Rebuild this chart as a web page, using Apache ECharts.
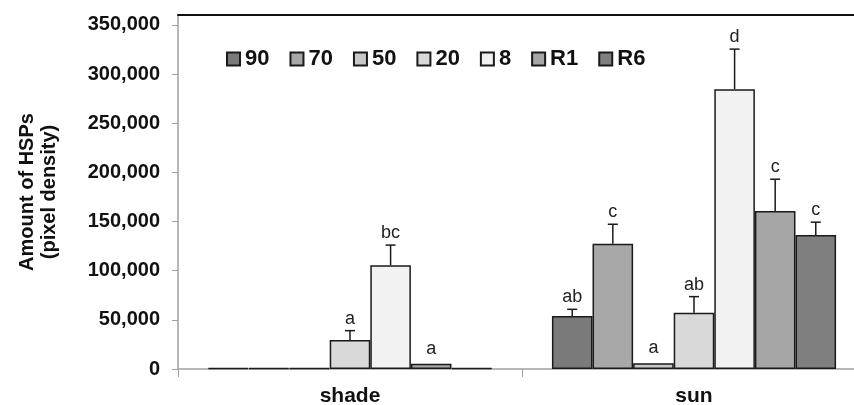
<!DOCTYPE html>
<html>
<head>
<meta charset="utf-8">
<script src="https://cdn.jsdelivr.net/npm/echarts@6/dist/echarts.min.js"></script>
<style>
  html, body { margin: 0; padding: 0; background: #fff; }
  #main { width: 854px; height: 405px; }
</style>
</head>
<body>
<div id="main"></div>
<script>
// categories and series
var categories = ['shade', 'sun'];
var seriesNames = ['90', '70', '50', '20', '8', 'R1', 'R6'];
var seriesColors = ['#7a7a7a', '#a8a8a8', '#c8c8c8', '#d9d9d9', '#f2f2f2', '#a6a6a6', '#7f7f7f'];

// means, one value per series (order 90,70,50,20,8,R1,R6)
var shadeMeans = [800, 800, 800, 29500, 105500, 5400, 800];
var sunMeans = [53900, 127500, 5800, 57300, 284600, 160700, 136300];

// top of the error bars (null = no error bar drawn)
var shadeErrTop = [null, null, null, 39000, 126000, null, null];
var sunErrTop = [60700, 147200, null, 73600, 325300, 193000, 149300];

// significance letters
var shadeLetters = ['', '', '', 'a', 'bc', 'a', ''];
var sunLetters = ['ab', 'c', 'a', 'ab', 'd', 'c', 'c'];

var yTicks = { min: 0, max: 360000, interval: 50000 };

var means = [shadeMeans, sunMeans];
var errTops = [shadeErrTop, sunErrTop];
var letters = [shadeLetters, sunLetters];
var catGap = 0.174;

var myChart = echarts.init(document.getElementById('main'));

var series = seriesNames.map(function (name, s) {
    return {
        name: name,
        type: 'bar',
        barGap: '0%',
        barCategoryGap: (catGap * 100) + '%',
        data: means.map(function (m) { return m[s]; }),
        itemStyle: { color: seriesColors[s], borderColor: '#1a1a1a', borderWidth: 1.5 },
        animation: false
    };
});

// error bars + letters
var errData = [];
for (var c = 0; c < categories.length; c++) {
    for (var s = 0; s < seriesNames.length; s++) {
        var e = errTops[c][s];
        errData.push([c, means[c][s], e == null ? means[c][s] : e, s, e == null ? 0 : 1]);
    }
}

series.push({
    type: 'custom',
    data: errData,
    encode: { x: 0, y: [1, 2] },
    silent: true,
    animation: false,
    z: 5,
    renderItem: function (params, api) {
        var c = api.value(0), v = api.value(1), e = api.value(2), s = api.value(3), hasErr = api.value(4);
        var n = seriesNames.length;
        var band = api.size([1, 0])[0];
        var bw = band * (1 - catGap) / n;
        var base = api.coord([c, v]);
        var x = base[0] + (s - (n - 1) / 2) * bw;
        var children = [];
        var labelY = base[1] - 15;
        if (hasErr) {
            var eTop = api.coord([c, e])[1];
            children.push({
                type: 'line',
                shape: { x1: x, y1: base[1], x2: x, y2: eTop },
                style: { stroke: '#1a1a1a', lineWidth: 1.5 }
            });
            children.push({
                type: 'line',
                shape: { x1: x - 5, y1: eTop, x2: x + 5, y2: eTop },
                style: { stroke: '#1a1a1a', lineWidth: 1.5 }
            });
            labelY = eTop - 12;
        }
        var txt = letters[c][s];
        if (txt) {
            children.push({
                type: 'text',
                style: {
                    x: x, y: labelY, text: txt,
                    align: 'center', verticalAlign: 'middle',
                    fontFamily: 'Liberation Sans', fontSize: 18, fill: '#222'
                }
            });
        }
        return { type: 'group', children: children };
    }
});

var option = {
    backgroundColor: '#fff',
    animation: false,
    grid: { left: 178, right: -12, top: 15, bottom: 36, outerBoundsMode: 'none', containLabel: false },
    legend: {
        data: seriesNames,
        left: 226,
        top: 48,
        padding: 0,
        icon: 'rect',
        itemWidth: 13,
        itemHeight: 13,
        itemGap: 20,
        textStyle: { fontFamily: 'Liberation Sans', fontWeight: 'bold', fontSize: 22, color: '#111' }
    },
    xAxis: [
        {
            type: 'category',
            data: categories,
            axisLine: { lineStyle: { color: '#a0a0a0', width: 1.5 } },
            axisTick: { show: true, length: 8, lineStyle: { color: '#a0a0a0' } },
            axisLabel: { margin: 17, fontFamily: 'Liberation Sans', fontWeight: 'bold', fontSize: 21, color: '#111' }
        },
        {
            type: 'category',
            data: categories,
            position: 'top',
            axisLine: { lineStyle: { color: '#111', width: 2 } },
            axisTick: { show: false },
            axisLabel: { show: false }
        }
    ],
    yAxis: {
        type: 'value',
        min: yTicks.min,
        max: yTicks.max,
        interval: yTicks.interval,
        name: 'Amount of HSPs\n(pixel density)',
        nameLocation: 'middle',
        nameRotate: 90,
        nameGap: 118,
        nameTextStyle: { fontFamily: 'Liberation Sans', fontWeight: 'bold', fontSize: 20, lineHeight: 22, color: '#111' },
        axisLine: { show: true, lineStyle: { color: '#a0a0a0', width: 1.5 } },
        axisTick: { show: true, length: 6, lineStyle: { color: '#a0a0a0' } },
        splitLine: { show: false },
        axisLabel: {
            margin: 18,
            showMaxLabel: false,
            fontFamily: 'Liberation Sans', fontWeight: 'bold', fontSize: 20, color: '#111',
            formatter: function (v) { return v === yTicks.max ? '' : v.toLocaleString('en-US'); }
        }
    },
    series: series
};

myChart.setOption(option);
</script>
</body>
</html>
